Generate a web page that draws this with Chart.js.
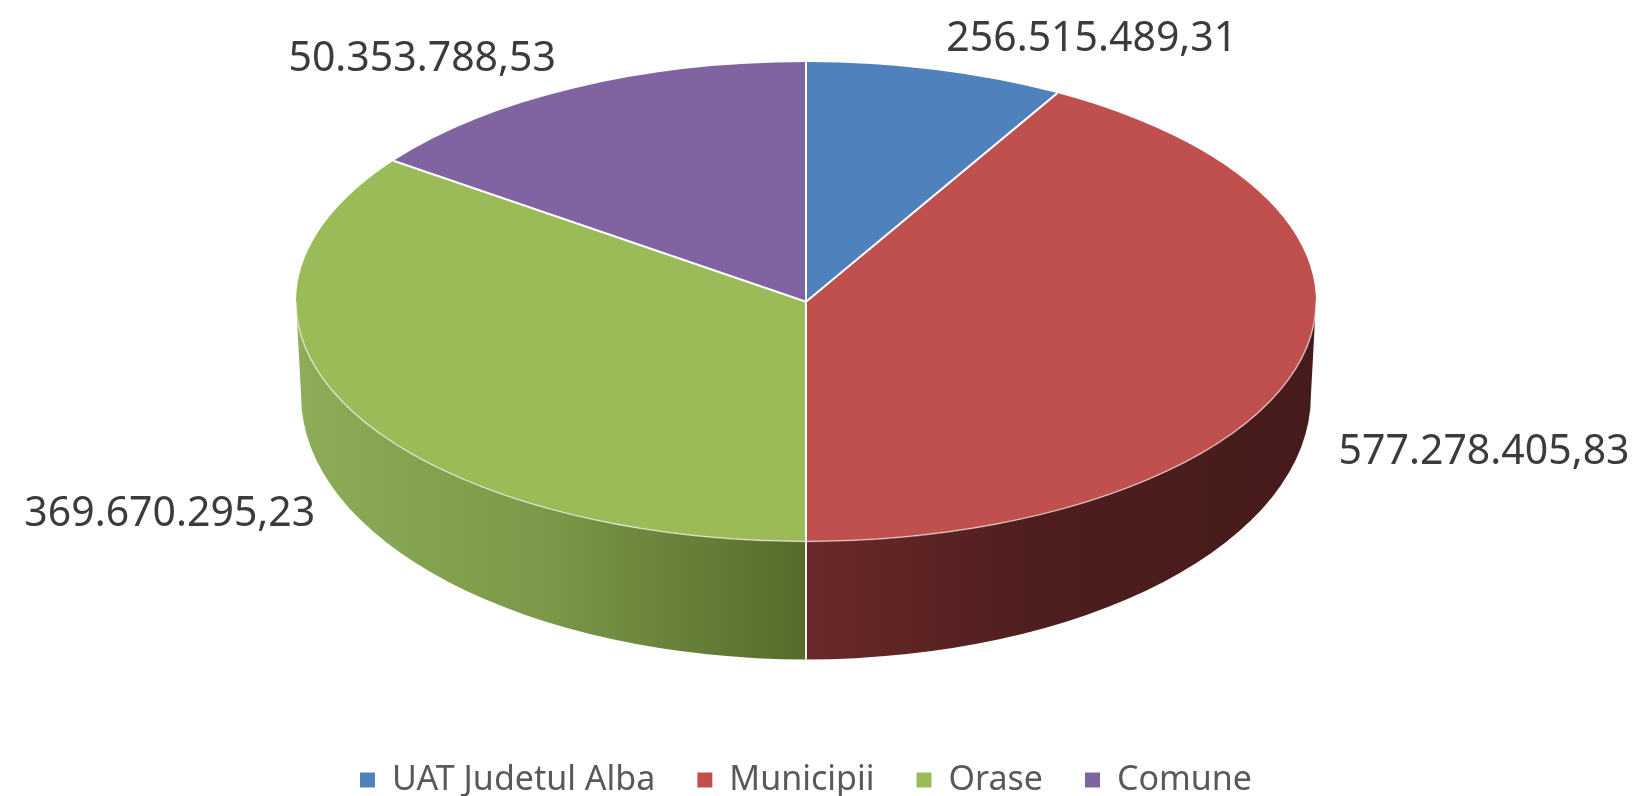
<!DOCTYPE html>
<html>
<head>
<meta charset="utf-8">
<title>Alba</title>
<script src="https://cdn.jsdelivr.net/npm/chart.js@4/dist/chart.umd.min.js"></script>
<style>
  html, body { margin: 0; padding: 0; background: #fff; overflow: hidden; }
  canvas { display: block; }
</style>
</head>
<body>
<canvas id="grafico" width="1634" height="807"></canvas>
<script>
'use strict';

// categorii si valori
const categorii = ['UAT Judetul Alba', 'Municipii', 'Orase', 'Comune'];
const etichete = ['256.515.489,31', '577.278.405,83', '369.670.295,23', '50.353.788,53'];
// cota fiecarei felii asa cum apare desenata (%)
const cote = [8.2, 41.8, 35.0, 15.0];

const culori = ['#4f81bd', '#c0504d', '#9bbb59', '#8064a2'];
// peretele lateral: [pozitie, culoare] de la stanga la dreapta
const pereti = [
  [[0, '#3a6090'], [1, '#22395a']],
  [[0, '#6c2929'], [0.5, '#6c2929'], [0.72, '#4f1e1e'], [1, '#461b1b']],
  [[0, '#8dad59'], [0.25, '#7a9847'], [0.5, '#566b2c'], [1, '#566b2c']],
  [[0, '#5e4a7a'], [1, '#3e3052']]
];

const RAZA = 510;       // raza orizontala
const TILT = 0.47;      // turtire verticala
const DEPTH = 118;      // grosimea in fata
const TOP_GAP = 62;     // de la marginea de sus pana la elipsa
const BOTTOM_RX = 0.99; // baza putin mai ingusta (perspectiva)
const BOTTOM_RY = 1.1;

function geom(chart) {
  const arcs = chart.getDatasetMeta(0).data;
  const a = arcs[0];
  const r = a.outerRadius;
  const cx = a.x;
  const cy = chart.chartArea.top + TOP_GAP + r * TILT;
  const ry = r * TILT;
  const ry2 = ry * BOTTOM_RY;
  const cy2 = cy + ry + DEPTH - ry2;
  return { arcs, r, cx, cy, ry, rx2: r * BOTTOM_RX, ry2, cy2, ay: a.y };
}

const pie3d = {
  id: 'pie3d',
  beforeDatasetsDraw(chart) {
    const ctx = chart.ctx;
    const g = geom(chart);

    // pereti laterali (doar jumatatea din fata)
    g.arcs.forEach((arc, i) => {
      const a0 = Math.max(arc.startAngle, 0);
      const a1 = Math.min(arc.endAngle, Math.PI);
      if (a1 <= a0) return;
      const grad = ctx.createLinearGradient(g.cx - g.r, 0, g.cx + g.r, 0);
      pereti[i].forEach(s => grad.addColorStop(s[0], s[1]));
      ctx.beginPath();
      ctx.ellipse(g.cx, g.cy, g.r, g.ry, 0, a0, a1);
      ctx.ellipse(g.cx, g.cy2, g.rx2, g.ry2, 0, a1, a0, true);
      ctx.closePath();
      ctx.fillStyle = grad;
      ctx.fill();
    });

    // linii albe intre pereti
    ctx.save();
    ctx.strokeStyle = 'rgba(255,255,255,0.9)';
    ctx.lineWidth = 2;
    g.arcs.forEach(arc => {
      const s = arc.startAngle;
      if (s > 0.001 && s < Math.PI - 0.001) {
        ctx.beginPath();
        ctx.moveTo(g.cx + g.r * Math.cos(s), g.cy + g.ry * Math.sin(s));
        ctx.lineTo(g.cx + g.rx2 * Math.cos(s), g.cy2 + g.ry2 * Math.sin(s));
        ctx.stroke();
      }
    });
    ctx.restore();

    // suprafata de sus desenata de Chart.js, turtita
    ctx.save();
    ctx.translate(g.cx, g.cy);
    ctx.scale(1, TILT);
    ctx.translate(-g.cx, -g.ay);
  },
  afterDatasetsDraw(chart) {
    const ctx = chart.ctx;
    ctx.restore();
    const g = geom(chart);

    // marginea din fata, luminoasa
    ctx.save();
    ctx.strokeStyle = 'rgba(255,255,255,0.55)';
    ctx.lineWidth = 1.5;
    ctx.beginPath();
    ctx.ellipse(g.cx, g.cy, g.r, g.ry, 0, 0, Math.PI);
    ctx.stroke();

    // separatoare pe suprafata de sus
    ctx.strokeStyle = '#ffffff';
    ctx.lineWidth = 2;
    g.arcs.forEach(arc => {
      const s = arc.startAngle;
      ctx.beginPath();
      ctx.moveTo(g.cx, g.cy);
      ctx.lineTo(g.cx + g.r * Math.cos(s), g.cy + g.ry * Math.sin(s));
      ctx.stroke();
    });

    // etichete de valoare
    ctx.fillStyle = '#3b3b3b';
    ctx.font = '41px "Noto Sans", sans-serif';
    g.arcs.forEach((arc, i) => {
      const m = (arc.startAngle + arc.endAngle) / 2;
      const c = Math.cos(m), s = Math.sin(m);
      let x = g.cx + g.r * 1.08 * c;
      let y;
      ctx.textAlign = c >= 0 ? 'left' : 'right';
      if (s < 0) {
        ctx.textBaseline = 'alphabetic';
        y = g.cy + g.ry * 1.08 * s;
      } else {
        ctx.textBaseline = 'middle';
        y = g.cy + g.ry * 1.3 * s + DEPTH * 0.6;
      }
      ctx.fillText(etichete[i], x, y);
    });
    ctx.restore();
  }
};

const chart = new Chart(document.getElementById('grafico'), {
  type: 'pie',
  data: {
    labels: categorii,
    datasets: [{
      data: cote,
      backgroundColor: culori,
      borderWidth: 0,
      radius: RAZA,
      clip: false
    }]
  },
  options: {
    responsive: false,
    animation: false,
    events: [],
    layout: { padding: { right: 22 } },
    plugins: {
      tooltip: { enabled: false },
      legend: {
        position: 'bottom',
        labels: {
          color: '#595959',
          font: { family: "'Noto Sans', sans-serif", size: 34 },
          boxWidth: 15,
          boxHeight: 15,
          padding: 42
        }
      }
    }
  },
  plugins: [pie3d]
});
</script>
</body>
</html>
